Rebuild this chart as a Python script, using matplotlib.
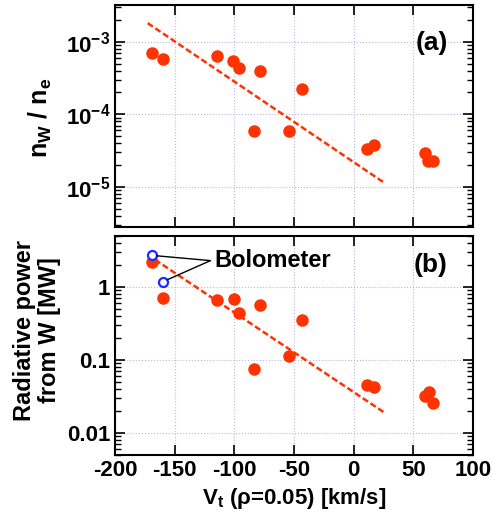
import matplotlib.pyplot as plt
import numpy as np

# toroidal rotation velocity [km/s]
vt = [-168.7, -159.5, -114.8, -100.9, -96.4, -78.7, -43.0, -83.2, -54.1, 10.9, 16.8, 59.5, 62.0, 66.8]
# (a) W concentration
nw_ne = [7.0e-4, 5.8e-4, 6.3e-4, 5.5e-4, 4.3e-4, 3.9e-4, 2.24e-4, 5.8e-5, 5.8e-5, 3.3e-5, 3.8e-5, 2.95e-5, 2.3e-5, 2.3e-5]
# (b) radiative power from W [MW]
vt_b = [-168.7, -159.5, -114.8, -100.4, -96.4, -78.7, -43.0, -83.2, -54.1, 10.9, 16.8, 59.5, 62.8, 66.5]
prad = [2.17, 0.71, 0.656, 0.68, 0.44, 0.57, 0.356, 0.0743, 0.112, 0.0449, 0.0427, 0.0324, 0.0368, 0.026]
# bolometer points
vt_bolo = [-168.7, -159.5]
p_bolo = [2.71, 1.19]
# dashed trend lines (end points)
fit_a_x = [-172.6, 26.3]
fit_a_y = [1.8e-3, 1.12e-5]
fit_b_x = [-166.5, 26.3]
fit_b_y = [2.37, 0.0188]

plt.rcParams['font.family'] = ['Liberation Sans', 'DejaVu Sans']
plt.rcParams['font.weight'] = 'bold'
plt.rcParams['axes.unicode_minus'] = False
plt.rcParams['mathtext.fontset'] = 'custom'
plt.rcParams['mathtext.rm'] = 'Liberation Sans:bold'
plt.rcParams['mathtext.it'] = 'Liberation Sans:bold'
plt.rcParams['mathtext.default'] = 'rm'

red = '#ff3300'
fs = 16

fig = plt.figure(figsize=(5.02, 5.25), dpi=100)
ax1 = fig.add_axes([115/502, 1-227/525, 358/502, 222/525])
ax2 = fig.add_axes([115/502, 1-455/525, 358/502, 219/525])


def style(ax):
    ax.set_yscale('log')
    ax.set_xlim(-200, 100)
    ax.set_xticks(np.arange(-200, 101, 50))
    ax.tick_params(which='both', direction='in', top=True, right=True, labelsize=fs)
    ax.tick_params(which='major', length=7, width=1.2)
    ax.tick_params(which='minor', length=4, width=1.0)
    ax.grid(True, which='major', color='#b8b8e0', linestyle=':', linewidth=0.8)
    for s in ax.spines.values():
        s.set_linewidth(1.5)


style(ax1)
ax1.set_ylim(2.8e-6, 3.2e-3)
ax1.plot(fit_a_x, fit_a_y, '--', color=red, lw=1.8, dashes=(2.5, 1.2))
ax1.plot(vt, nw_ne, 'o', color=red, ms=8, mec=red)
ax1.set_yticks([1e-5, 1e-4, 1e-3])
ax1.set_yticklabels(['10$^{-5}$', '10$^{-4}$', '10$^{-3}$'])
ax1.tick_params(axis='x', labelbottom=False)
ax1.set_ylabel('n$_W$ / n$_e$', fontsize=fs + 2, fontweight='bold')
ax1.yaxis.set_label_coords(-0.17, 0.49)
ax1.text(0.93, 0.83, '(a)', transform=ax1.transAxes, ha='right', va='center',
         fontsize=fs + 3, fontweight='bold')

style(ax2)
ax2.set_ylim(0.005, 5)
ax2.plot(fit_b_x, fit_b_y, '--', color=red, lw=1.8, dashes=(2.5, 1.2))
ax2.plot(vt_b, prad, 'o', color=red, ms=8, mec=red)
ax2.plot(vt_bolo, p_bolo, 'o', mfc='white', mec='#1a2cff', mew=1.6, ms=6.5)
ax2.set_yticks([0.01, 0.1, 1])
ax2.set_yticklabels(['0.01', '0.1', '1'])
ax2.set_ylabel('Radiative power\nfrom W [MW]', fontsize=fs + 1, fontweight='bold', linespacing=1.15)
ax2.yaxis.set_label_coords(-0.15, 0.57)
ax2.set_xlabel('V$_t$ ($\\rho$=0.05) [km/s]', fontsize=fs, fontweight='bold')
ax2.text(0.93, 0.867, '(b)', transform=ax2.transAxes, ha='right', va='center',
         fontsize=fs + 3, fontweight='bold')
for x, y in zip(vt_bolo, p_bolo):
    ax2.annotate('', xy=(x, y), xytext=(-120, 2.3),
                 arrowprops=dict(arrowstyle='-', color='black', lw=1.0, shrinkA=0, shrinkB=3))
ax2.text(-117, 2.3, 'Bolometer', fontsize=fs + 1, fontweight='bold', va='center', ha='left')

fig.savefig('out.png', dpi=100)
